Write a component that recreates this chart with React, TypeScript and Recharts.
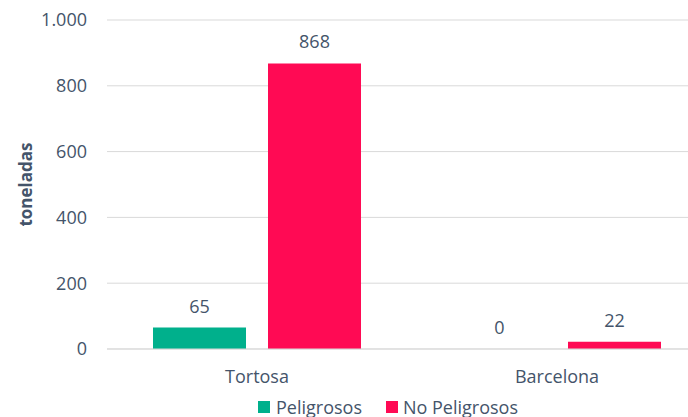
import React from 'react';
import { BarChart, Bar, XAxis, YAxis, CartesianGrid, LabelList, Label, Cell } from 'recharts';

const CATEGORIES = ['Tortosa', 'Barcelona'];
const PELIGROSOS = [65, 0];
const NO_PELIGROSOS = [868, 22];
const Y_TICKS = [0, 200, 400, 600, 800, 1000];

const GREEN = '#00b08c';
const PINK = '#ff0a54';
const TEXT = '#44546a';
const FONT = '"Open Sans", sans-serif';

const data = CATEGORIES.map((name, i) => ({
  name,
  peligrosos: PELIGROSOS[i],
  noPeligrosos: NO_PELIGROSOS[i],
}));

const fmt = (v: number) => String(v).replace(/\B(?=(\d{3})+(?!\d))/g, '.');

// zero values still need a rect so the "0" label gets drawn; it is kept invisible
const minSize = (v: any) => (Number(v) === 0 ? 1 : 0);

// value label above the bar
const TopLabel = (props: any) => {
  const { x, y, width, height, value } = props;
  if (value == null) return null;
  const top = Number(value) === 0 ? Number(y) + Number(height) : Number(y);
  return (
    <text
      x={Number(x) + Number(width) / 2}
      y={top - 15}
      textAnchor="middle"
      fill={TEXT}
      fontSize={18}
      fontFamily={FONT}
    >
      {value}
    </text>
  );
};

const YTitle = (props: any) => {
  const vb = props.viewBox || {};
  const cx = 25;
  const cy = Number(vb.y) + Number(vb.height) / 2;
  return (
    <text
      x={cx}
      y={cy}
      transform={`rotate(-90 ${cx} ${cy})`}
      textAnchor="middle"
      dominantBaseline="central"
      fill={TEXT}
      fontSize={17}
      fontWeight={700}
      fontFamily={FONT}
    >
      toneladas
    </text>
  );
};

const LegendBox = () => (
  <div
    style={{
      position: 'absolute', top: 395, left: 258, display: 'flex', alignItems: 'flex-start',
      fontFamily: FONT, fontSize: 18, lineHeight: '24px', color: TEXT, whiteSpace: 'nowrap',
    }}
  >
    <span style={{ width: 12, height: 12, background: GREEN, display: 'inline-block', marginTop: 6, marginRight: 6 }} />
    <span style={{ marginRight: 24 }}>Peligrosos</span>
    <span style={{ width: 12, height: 12, background: PINK, display: 'inline-block', marginTop: 6, marginRight: 5 }} />
    <span>No Peligrosos</span>
  </div>
);

export default function App() {
  return (
    <div style={{ position: 'absolute', left: 0, top: 0, width: 688, height: 417, overflow: 'hidden', background: '#fff' }}>
      <BarChart
        width={720}
        height={417}
        data={data}
        margin={{ top: 20, right: 13, bottom: 0, left: 0 }}
        barCategoryGap={46}
        barGap={22}
      >
        <CartesianGrid vertical={false} stroke="#d9d9d9" />
        <XAxis
          dataKey="name"
          axisLine={{ stroke: '#d9d9d9' }}
          tickLine={false}
          height={68}
          tickMargin={15}
          tick={{ fill: TEXT, fontSize: 18, fontFamily: FONT }}
        />
        <YAxis
          domain={[0, 1000]}
          ticks={Y_TICKS}
          axisLine={false}
          tickLine={false}
          tickSize={0}
          tickMargin={20}
          width={107}
          tickFormatter={fmt}
          tick={{ fill: TEXT, fontSize: 18, fontFamily: FONT }}
        >
          <Label position="insideLeft" content={YTitle} />
        </YAxis>
        <Bar dataKey="peligrosos" fill={GREEN} barSize={93} minPointSize={minSize} isAnimationActive={false}>
          {PELIGROSOS.map((v, i) => (
            <Cell key={`p-${i}`} fill={GREEN} fillOpacity={v === 0 ? 0 : 1} />
          ))}
          <LabelList dataKey="peligrosos" content={TopLabel} />
        </Bar>
        <Bar dataKey="noPeligrosos" fill={PINK} barSize={93} minPointSize={minSize} isAnimationActive={false}>
          {NO_PELIGROSOS.map((v, i) => (
            <Cell key={`n-${i}`} fill={PINK} fillOpacity={v === 0 ? 0 : 1} />
          ))}
          <LabelList dataKey="noPeligrosos" content={TopLabel} />
        </Bar>
      </BarChart>
      <LegendBox />
    </div>
  );
}
